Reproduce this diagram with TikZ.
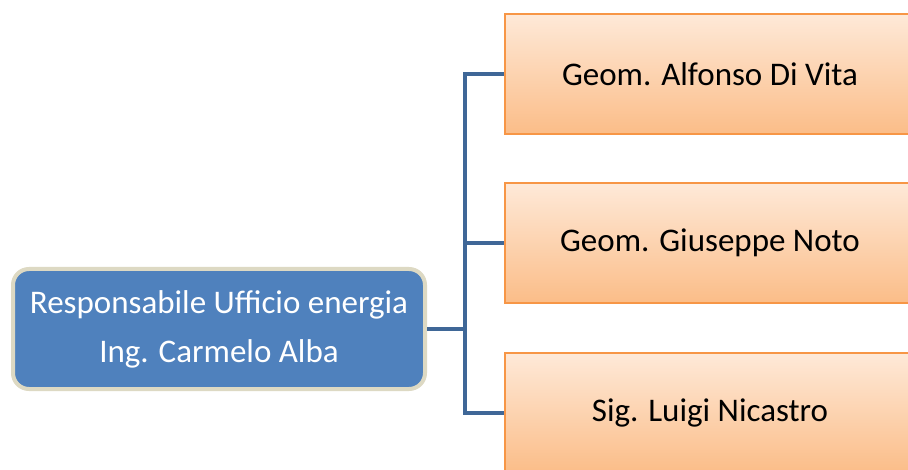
\documentclass[tikz,border=0pt]{standalone}
\usepackage{fontspec}
\setmainfont{Carlito}
\definecolor{leadfill}{HTML}{4F81BD}
\definecolor{leadedge}{HTML}{DDD9C3}
\definecolor{linkblue}{HTML}{3F6797}
\definecolor{peachtop}{HTML}{FEE9D8}
\definecolor{peachbot}{HTML}{FBBD88}
\definecolor{orangeedge}{HTML}{F79646}
\tikzset{
  leadbox/.style={draw=leadedge, line width=4pt, fill=leadfill, rounded corners=16pt,
    minimum width=412pt, minimum height=120pt, text=white, align=center,
    font=\fontsize{33}{49}\selectfont, inner sep=0pt},
  staffbox/.style={draw=orangeedge, line width=2.2pt, top color=peachtop, bottom color=peachbot,
    minimum width=410pt, minimum height=120pt, text=black,
    font=\fontsize{33}{40}\selectfont, inner sep=0pt},
  conn/.style={draw=linkblue, line width=4pt, line join=miter}
}
\begin{document}
\begin{tikzpicture}[x=1pt,y=-1pt]
  \useasboundingbox (0,0) rectangle (908,470);
  \clip (0,0) rectangle (908,470);
  \fill[white] (0,0) rectangle (908,470);

  \coordinate (bus) at (465,0);

  % staff members
  \node[staffbox] (s1) at (710,74) {Geom. Alfonso Di Vita};
  \node[staffbox] (s2) at (710,243) {Geom. Giuseppe Noto};
  \node[staffbox] (s3) at (710,413) {Sig. Luigi Nicastro};

  % head of office
  \node[leadbox] (lead) at (219,329) {Responsabile Ufficio energia\\Ing. Carmelo Alba};

  % connectors
  \draw[conn] (s1.west) -- (s1.west -| bus) -- (s3.west -| bus) -- (s3.west);
  \draw[conn] (s2.west) -- (s2.west -| bus);
  \draw[conn] (lead.east) -- (lead.east -| bus);
\end{tikzpicture}
\end{document}
